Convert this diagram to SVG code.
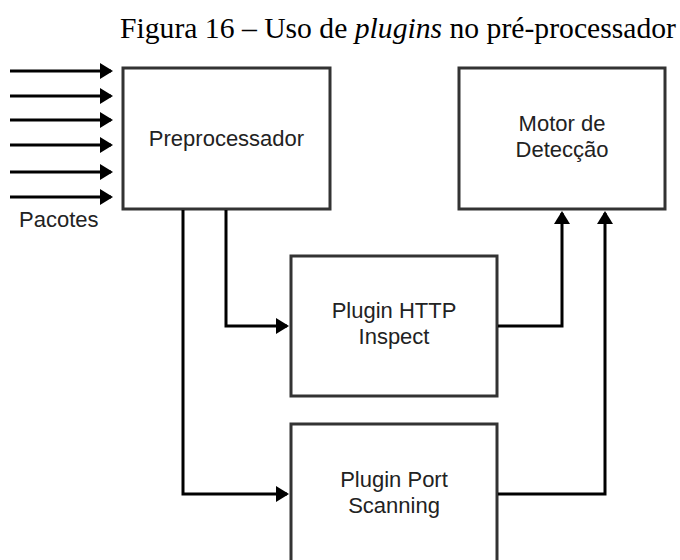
<svg xmlns="http://www.w3.org/2000/svg" width="680" height="560" viewBox="0 0 680 560">
<style>
.box{fill:#fff;stroke:#333;stroke-width:3}
.lbl{font-family:"Liberation Sans",Arial,sans-serif;font-size:22px;fill:#222;text-anchor:middle}
.con{fill:none;stroke:#000;stroke-width:3;stroke-linejoin:miter}
.title{font-family:"Liberation Serif","Times New Roman",serif;font-size:29px;fill:#000}
</style>
<defs>
<marker id="ah" markerUnits="userSpaceOnUse" markerWidth="15" markerHeight="16" viewBox="0 0 13 16" refX="11" refY="8" orient="auto">
<path d="M0,0 L13,8 L0,16 z" fill="#000"/>
</marker>
</defs>
<text class="title" x="120" y="38" textLength="556" lengthAdjust="spacingAndGlyphs">Figura 16 – Uso de <tspan font-style="italic">plugins</tspan> no pré-processador</text>
<g id="preprocessador">
<rect class="box" x="123" y="68" width="207" height="141"/>
<text class="lbl" x="226.5" y="146">Preprocessador</text>
</g>
<g id="motor">
<rect class="box" x="459" y="68" width="206" height="141"/>
<text class="lbl" x="562" y="131">Motor de</text>
<text class="lbl" x="562" y="157">Detecção</text>
</g>
<g id="http">
<rect class="box" x="291" y="256" width="206" height="140"/>
<text class="lbl" x="394" y="318">Plugin HTTP</text>
<text class="lbl" x="394" y="344">Inspect</text>
</g>
<g id="port">
<rect class="box" x="291" y="424" width="206" height="160"/>
<text class="lbl" x="394" y="487">Plugin Port</text>
<text class="lbl" x="394" y="513">Scanning</text>
</g>
<g id="pacotes">
<text class="lbl" x="19" y="227" style="text-anchor:start">Pacotes</text>
</g>
<g id="connectors">
<line class="con" x1="10" y1="71" x2="111" y2="71" marker-end="url(#ah)"/>
<line class="con" x1="10" y1="96" x2="111" y2="96" marker-end="url(#ah)"/>
<line class="con" x1="10" y1="120" x2="111" y2="120" marker-end="url(#ah)"/>
<line class="con" x1="10" y1="145" x2="111" y2="145" marker-end="url(#ah)"/>
<line class="con" x1="10" y1="172" x2="111" y2="172" marker-end="url(#ah)"/>
<line class="con" x1="10" y1="197" x2="111" y2="197" marker-end="url(#ah)"/>
<path class="con" d="M226,210 V326 H287" marker-end="url(#ah)"/>
<path class="con" d="M183,210 V494 H287" marker-end="url(#ah)"/>
<path class="con" d="M498,326 H562 V213" marker-end="url(#ah)"/>
<path class="con" d="M498,494 H605 V213" marker-end="url(#ah)"/>
</g>
</svg>
